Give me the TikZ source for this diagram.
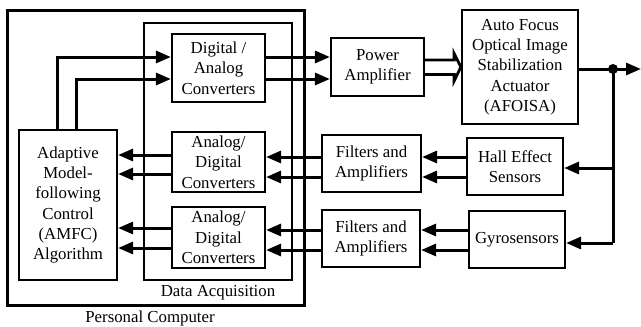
\documentclass[tikz,border=0pt]{standalone}
\usepackage{fontspec}
\setmainfont{Liberation Serif}
\usetikzlibrary{arrows.meta,calc}
\begin{document}
\begin{tikzpicture}[x=1pt,y=-1pt,
  box/.style={draw, line width=2.2pt, align=center, font=\fontsize{16.8}{20.3}\selectfont, inner sep=0pt},
  frame/.style={draw, inner sep=0pt},
  lbl/.style={font=\fontsize{16.8}{20.3}\selectfont, inner sep=0pt},
  arr/.style={line width=3pt, -{Triangle[length=15pt,width=12pt]}},
  wire/.style={line width=3pt}]
\useasboundingbox (0,0) rectangle (641,327);
% containers
\node[frame, line width=3pt, minimum width=297, minimum height=295] (pc) at (155.5,157.5) {};
\node[frame, line width=2.2pt, minimum width=148, minimum height=257] (daq) at (218,151.5) {};
\node[lbl] (daqlbl) at (218,293) {Data Acquisition};
\node[lbl] (pclbl) at (150,318) {Personal Computer};
% blocks
\node[box, minimum width=93, minimum height=68] (da) at (218.5,68) {Digital /\\Analog\\Converters};
\node[box, minimum width=93, minimum height=60] (ad1) at (218.5,162) {Analog/\\Digital\\Converters};
\node[box, minimum width=93, minimum height=61] (ad2) at (218.5,237.5) {Analog/\\Digital\\Converters};
\node[box, minimum width=98, minimum height=150] (amfc) at (68,205) {Adaptive\\Model-\\following\\Control\\(AMFC)\\Algorithm};
\node[box, minimum width=93, minimum height=58] (pa) at (377.5,67) {Power\\Amplifier};
\node[box, minimum width=116, minimum height=114] (act) at (520,67) {Auto Focus\\Optical Image\\Stabilization\\Actuator\\(AFOISA)};
\node[box, minimum width=99, minimum height=57] (f1) at (371.5,163.5) {Filters and\\Amplifiers};
\node[box, minimum width=98, minimum height=57] (f2) at (371,238.5) {Filters and\\Amplifiers};
\node[box, minimum width=96, minimum height=57] (hall) at (515,166.5) {Hall Effect\\Sensors};
\node[box, minimum width=96, minimum height=57] (gyro) at (517,239.5) {Gyrosensors};
% AMFC -> D/A
\draw[arr] ($(amfc.north west)+(40,0)$) |- ($(da.west)+(0,-11)$);
\draw[arr] ($(amfc.north west)+(59,0)$) |- ($(da.west)+(0,11)$);
% D/A -> Power amplifier
\coordinate (d1) at ($(da.east)+(0,-11)$);
\coordinate (d2) at ($(da.east)+(0,11)$);
\draw[arr] (d1) -- (d1 -| pa.west);
\draw[arr] (d2) -- (d2 -| pa.west);
% hollow arrow PA -> actuator
\draw[line width=2.8pt, line join=miter]
  ($(pa.east)+(0,-7)$) -- ($(pa.east)+(29,-7)$) -- ($(pa.east)+(29,-13.5)$)
  -- (act.west) -- ($(pa.east)+(29,14)$) -- ($(pa.east)+(29,7.5)$) -- ($(pa.east)+(0,7.5)$);
% actuator output and feedback branch
\coordinate (o1) at ($(act.east)+(0,2)$);
\coordinate (dot) at (613,69);
\coordinate (out) at (641,69);
\draw[wire] (o1) -- (dot);
\draw[arr] (dot) -- (out);
\fill (dot) circle (5);
\coordinate (hin) at (613,168);
\coordinate (gin) at (613,243);
\draw[wire] (dot) -- (gin);
\draw[arr] (hin) -- (hin -| hall.east);
\draw[arr] (gin) -- (gin -| gyro.east);
% sensors -> filters
\coordinate (h1) at (hall.west |- 0,157);
\coordinate (h2) at (hall.west |- 0,177);
\draw[arr] (h1) -- (h1 -| f1.east);
\draw[arr] (h2) -- (h2 -| f1.east);
\coordinate (g1) at (gyro.west |- 0,230);
\coordinate (g2) at (gyro.west |- 0,250);
\draw[arr] (g1) -- (g1 -| f2.east);
\draw[arr] (g2) -- (g2 -| f2.east);
% filters -> A/D
\coordinate (fa1) at (f1.west |- 0,157);
\coordinate (fa2) at (f1.west |- 0,177);
\draw[arr] (fa1) -- (fa1 -| ad1.east);
\draw[arr] (fa2) -- (fa2 -| ad1.east);
\coordinate (fb1) at (f2.west |- 0,230);
\coordinate (fb2) at (f2.west |- 0,250);
\draw[arr] (fb1) -- (fb1 -| ad2.east);
\draw[arr] (fb2) -- (fb2 -| ad2.east);
% A/D -> AMFC
\coordinate (c1) at (ad1.west |- 0,155);
\coordinate (c2) at (ad1.west |- 0,174);
\draw[arr] (c1) -- (c1 -| amfc.east);
\draw[arr] (c2) -- (c2 -| amfc.east);
\coordinate (e1) at (ad2.west |- 0,228);
\coordinate (e2) at (ad2.west |- 0,248);
\draw[arr] (e1) -- (e1 -| amfc.east);
\draw[arr] (e2) -- (e2 -| amfc.east);
\end{tikzpicture}
\end{document}
